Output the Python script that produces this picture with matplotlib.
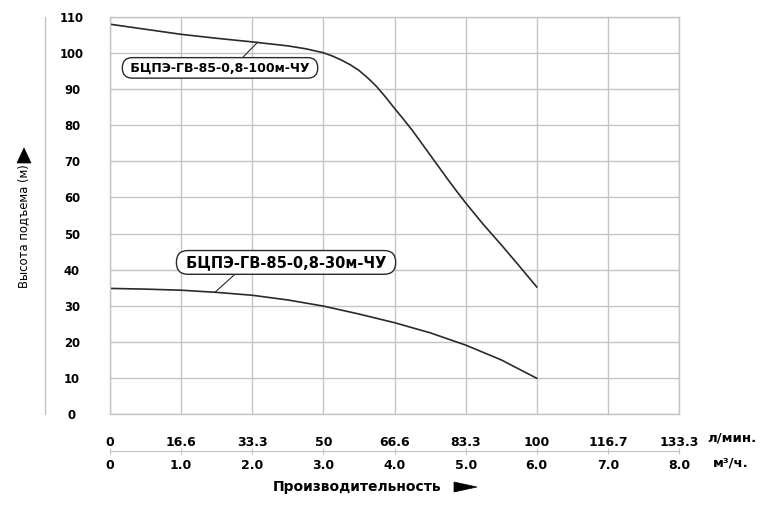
import numpy as np
from matplotlib import pyplot as plt
from matplotlib.lines import Line2D
from matplotlib.patches import Polygon

# flow in m3/h, head in m
q_100 = [0, 0.5, 1.0, 1.5, 2.0, 2.5, 2.75, 3.0, 3.125, 3.25, 3.375, 3.5, 3.625, 3.75,
         3.875, 4.0, 4.125, 4.25, 4.375, 4.5, 4.625, 4.75, 4.875, 5.0, 5.25, 5.5, 5.75, 6.0]
h_100 = [108.0, 106.6, 105.2, 104.1, 103.1, 102.0, 101.2, 100.1, 99.2, 98.1, 96.8, 95.2, 93.1, 90.7,
         87.8, 84.7, 81.7, 78.6, 75.2, 71.8, 68.4, 65.0, 61.7, 58.5, 52.5, 46.9, 41.1, 35.2]

q_30 = [0, 0.5, 1.0, 1.5, 2.0, 2.5, 3.0, 3.5, 4.0, 4.5, 5.0, 5.5, 6.0]
h_30 = [34.8, 34.6, 34.3, 33.7, 32.9, 31.6, 29.9, 27.7, 25.3, 22.5, 19.1, 15.0, 9.9]

x_ticks = [0, 1, 2, 3, 4, 5, 6, 7, 8]
lpm_labels = ["0", "16.6", "33.3", "50", "66.6", "83.3", "100", "116.7", "133.3"]
m3h_labels = ["0", "1.0", "2.0", "3.0", "4.0", "5.0", "6.0", "7.0", "8.0"]
y_ticks = list(range(0, 111, 10))

name_100 = "БЦПЭ-ГВ-85-0,8-100м-ЧУ"
name_30 = "БЦПЭ-ГВ-85-0,8-30м-ЧУ"

W, H = 766, 509
GRID = "#c4c4c4"
LINE = "#2a2a2a"


def px(x, y):
    # pixel position (from top-left) -> figure fraction
    return (x / W, 1 - y / H)


fig = plt.figure(figsize=(W / 100, H / 100), dpi=100)
fig.patch.set_facecolor("white")
ax = fig.add_axes([110 / W, 95 / H, 569 / W, 397 / H])

ax.plot(q_100, h_100, color=LINE, lw=1.2, solid_joinstyle="round")
ax.plot(q_30, h_30, color=LINE, lw=1.2, solid_joinstyle="round")

ax.set_xlim(0, 8)
ax.set_ylim(0, 110)
ax.grid(True, color=GRID, lw=1)
for s in ax.spines.values():
    s.set_color(GRID)
    s.set_linewidth(1)

ax.set_yticks(y_ticks)
ax.set_yticklabels([str(v) for v in y_ticks], fontweight="bold", fontsize=8.4)
ax.tick_params(axis="y", length=0, pad=27.4, colors="black")
for lab in ax.get_yticklabels():
    lab.set_horizontalalignment("center")

# top row: l/min
ax.set_xticks(x_ticks)
ax.set_xticklabels(lpm_labels, fontweight="bold", fontsize=9)
ax.tick_params(axis="x", length=0, pad=15.5)

# bottom row: m3/h with its own line
sec = ax.secondary_xaxis(-37 / 397)
sec.set_xticks(x_ticks)
sec.set_xticklabels(m3h_labels, fontweight="bold", fontsize=9)
sec.tick_params(axis="x", direction="inout", length=4, color=GRID, pad=4)
sec.spines["bottom"].set_color(GRID)

# annotations
ax.annotate(" " + name_100 + " ", xy=(2.08, 103.1), xytext=(1.547, 95.9),
            ha="center", va="center", fontsize=9, fontweight="bold",
            bbox=dict(boxstyle="round,pad=0.3,rounding_size=0.8", fc="white", ec=LINE, lw=1),
            arrowprops=dict(arrowstyle="-", color=LINE, lw=0.8, relpos=(0.6, 1.0),
                            shrinkA=0, shrinkB=0))
ax.annotate(" " + name_30 + " ", xy=(1.48, 33.8), xytext=(2.475, 42.0),
            ha="center", va="center", fontsize=10.5, fontweight="bold",
            bbox=dict(boxstyle="round,pad=0.3,rounding_size=0.8", fc="white", ec=LINE, lw=1),
            arrowprops=dict(arrowstyle="-", color=LINE, lw=0.8, relpos=(0.28, 0.0),
                            shrinkA=0, shrinkB=0))

# separate left axis line
fig.add_artist(Line2D([45 / W, 45 / W], [95 / H, 492 / H], color=GRID, lw=1))

# y label with arrow
fig.text(*px(24, 226), "Высота подъема (м)", rotation=90,
         ha="center", va="center", fontsize=8.4)
fig.add_artist(Polygon([px(17, 163), px(31, 163), px(24, 148)], closed=True,
                       transform=fig.transFigure, fc="black", ec="black", lw=0.5))

# x label with arrow
fig.text(*px(273, 487), "Производительность", ha="left", va="center",
         fontsize=10, fontweight="bold")
fig.add_artist(Polygon([px(454, 482), px(454, 492), px(477, 487)], closed=True,
                       transform=fig.transFigure, fc="black", ec="black", lw=0.5))

# units
fig.text(*px(707, 438), "л/мин.", ha="left", va="center", fontsize=9.5, fontweight="bold")
fig.text(*px(713, 463), "м³/ч.", ha="left", va="center", fontsize=9.5, fontweight="bold")

fig.savefig("out.png", dpi=100)
